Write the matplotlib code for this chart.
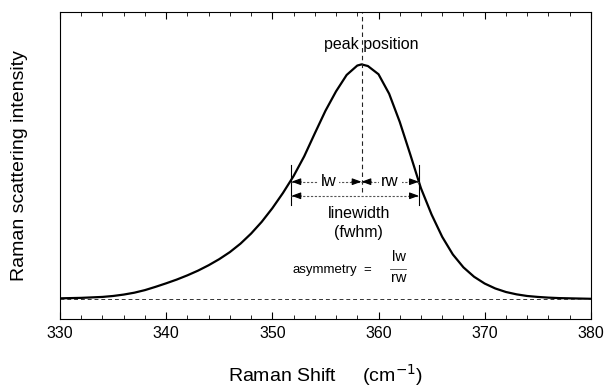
import matplotlib
matplotlib.use("Agg")
import matplotlib.pyplot as plt
from matplotlib.ticker import MultipleLocator

plt.rcParams['font.family'] = ['Liberation Sans', 'DejaVu Sans']

# Curve values (normalized intensity, baseline 0, peak 1)
shift = [330, 331, 332, 333, 334, 335, 336, 337, 338, 339,
         340, 341, 342, 343, 344, 345, 346, 347, 348, 349,
         350, 351, 352, 353, 354, 355, 356, 357, 358, 358.4,
         359, 360, 361, 362, 363, 363.8, 364, 365, 366, 367,
         368, 369, 370, 371, 372, 373, 374, 375, 376, 377,
         378, 379, 380]
intensity = [0.003, 0.004, 0.005, 0.007, 0.009, 0.013, 0.019, 0.027, 0.038, 0.052,
             0.067, 0.083, 0.101, 0.121, 0.144, 0.170, 0.200, 0.236, 0.279, 0.329,
             0.387, 0.452, 0.524, 0.608, 0.706, 0.802, 0.885, 0.955, 0.995, 1.000,
             0.993, 0.958, 0.875, 0.755, 0.615, 0.500, 0.472, 0.360, 0.265, 0.190,
             0.135, 0.095, 0.066, 0.045, 0.030, 0.020, 0.013, 0.009, 0.006, 0.004,
             0.003, 0.002, 0.001]

peak_pos = 358.4
half_left = 351.8
half_right = 363.8
half_level = 0.50
fwhm_level = 0.44

x_ticks = [330, 340, 350, 360, 370, 380]

fig = plt.figure(figsize=(6.06, 3.89), dpi=100)
ax = fig.add_axes([0.099, 0.18, 0.876, 0.789])

ax.plot(shift, intensity, color='black', lw=1.6, solid_joinstyle='round',
        solid_capstyle='round')
ax.plot([330, 380], [0, 0], color='#333333', lw=0.7, ls=(0, (4, 3)))

ax.set_xlim(330, 380)
ax.set_ylim(-0.085, 1.223)

# peak position dashed line
ax.plot([peak_pos, peak_pos], [fwhm_level + 0.015, 1.223], color='#222222',
        lw=0.8, ls=(0, (4, 3)))
ax.text(359.3, 1.086, 'peak position', ha='center', va='center', fontsize=11.5)

# vertical bars at half max
for xv in (half_left, half_right):
    ax.plot([xv, xv], [0.40, 0.57], color='black', lw=0.8)

def dashed_arrow(x0, x1, y):
    ax.plot([x0, x1], [y, y], color='#555555', lw=0.8, ls=(0, (2, 1.5)))
    hl = 0.9
    ax.annotate('', xy=(x0, y), xytext=(x0 + hl, y),
                arrowprops=dict(arrowstyle='-|>,head_length=0.55,head_width=0.2',
                                color='black', lw=0.8, shrinkA=0, shrinkB=0))
    ax.annotate('', xy=(x1, y), xytext=(x1 - hl, y),
                arrowprops=dict(arrowstyle='-|>,head_length=0.55,head_width=0.2',
                                color='black', lw=0.8, shrinkA=0, shrinkB=0))

dashed_arrow(half_left, peak_pos, half_level)
dashed_arrow(peak_pos, half_right, half_level)
dashed_arrow(half_left, half_right, fwhm_level)

ax.text(355.3, half_level, 'lw', ha='center', va='center',
        fontsize=12, bbox=dict(facecolor='white', edgecolor='none', pad=2))
ax.text(361.1, half_level, 'rw', ha='center', va='center',
        fontsize=12, bbox=dict(facecolor='white', edgecolor='none', pad=2))

ax.text(358.2, 0.366, 'linewidth', ha='center', va='center', fontsize=11.5)
ax.text(358.1, 0.285, '(fwhm)', ha='center', va='center', fontsize=11.5)

ax.text(354.9, 0.124, 'asymmetry', ha='center', va='center', fontsize=9.5)
ax.text(358.9, 0.124, '=', ha='center', va='center', fontsize=9.5)
ax.text(361.9, 0.178, 'lw', ha='center', va='center', fontsize=10.5)
ax.plot([361.1, 362.6], [0.128, 0.128], color='#444444', lw=0.6)
ax.text(361.9, 0.088, 'rw', ha='center', va='center', fontsize=10.5)

ax.set_xticks(x_ticks)
ax.xaxis.set_minor_locator(MultipleLocator(2))
ax.tick_params(axis='x', which='both', direction='in', top=True, bottom=True,
               labelsize=11.5, pad=5)
ax.tick_params(axis='x', which='major', length=5, width=0.8)
ax.tick_params(axis='x', which='minor', length=3, width=0.6)
ax.set_yticks([])
for s in ax.spines.values():
    s.set_linewidth(0.8)

ax.set_xlabel('Raman Shift     (cm$^{-1}$)', fontsize=14, labelpad=15)
ax.set_ylabel('Raman scattering intensity', fontsize=14, labelpad=23)

fig.savefig('out.png', dpi=100)
